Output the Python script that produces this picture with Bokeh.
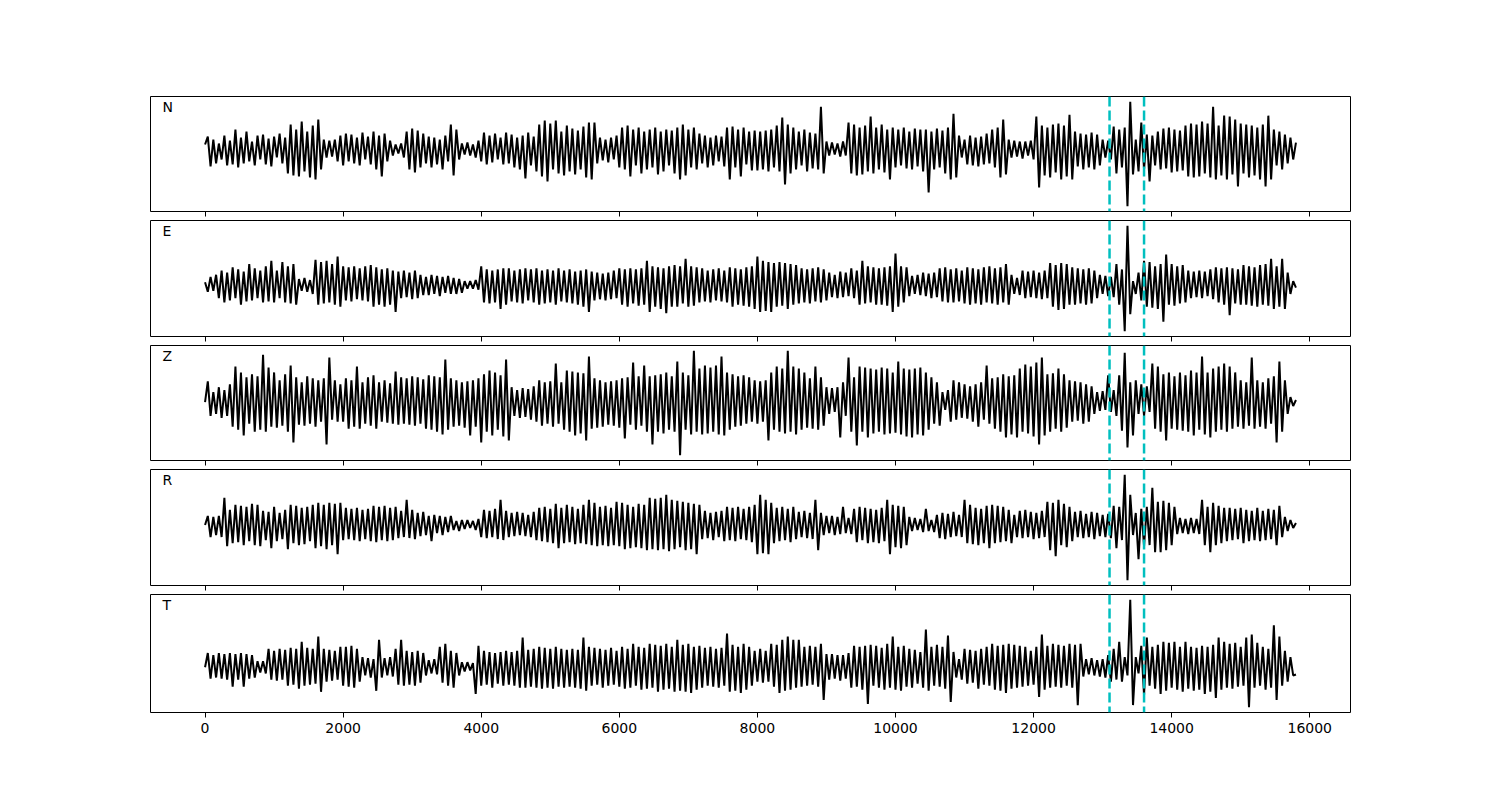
import numpy as np
from bokeh.plotting import figure
from bokeh.layouts import column
from bokeh.models import Range1d, Span, FixedTicker, Label, CustomLabelingPolicy
from bokeh.embed import file_html
from bokeh.resources import INLINE

# ---- data (amplitudes, one value per extremum) ----
channel_names = ["N", "E", "Z", "R", "T"]
sample_step = 40          # samples between successive values
pick_times = [13100, 13600]
x_ticks = [0, 2000, 4000, 6000, 8000, 10000, 12000, 14000, 16000]

n_trace = [
    5, 13, -17, 10, -14, 6, -10, 14, -16, 9,
    -15, 20, -18, 12, -14, 18, -12, 8, -16, 14,
    -10, 15, -15, 11, -17, 13, -8, 16, -14, 12,
    -24, 25, -26, 20, -27, 28, -22, 18, -28, 24,
    -30, 30, -20, 10, -8, 9, -7, 10, -12, 14,
    -16, 16, -12, 15, -14, 12, -16, 17, -10, 13,
    -15, 18, -20, 14, -27, 16, -12, 9, -6, 5,
    -4, 6, -8, 18, -20, 21, -23, 19, -18, 16,
    -14, 13, -18, 12, -15, 10, -20, 14, -12, 25,
    -26, 20, -10, 6, -5, 7, -6, 5, -8, 9,
    -12, 17, -15, 14, -13, 16, -10, 12, -15, 17,
    -14, 15, -18, 12, -20, 14, -29, 17, -16, 13,
    -22, 25, -27, 29, -32, 26, -20, 29, -24, 18,
    -26, 24, -22, 21, -25, 19, -20, 23, -28, 27,
    -30, 27, -14, 12, -11, 10, -13, 12, -10, 14,
    -18, 22, -20, 24, -27, 20, -16, 22, -24, 18,
    -20, 20, -18, 22, -25, 18, -22, 20, -16, 19,
    -24, 22, -30, 25, -26, 20, -18, 22, -20, 16,
    -14, 14, -18, 12, -16, 14, -12, 13, -17, 22,
    -30, 23, -18, 20, -27, 22, -15, 18, -21, 19,
    -21, 18, -20, 19, -22, 20, -18, 24, -22, 32,
    -35, 25, -24, 22, -20, 18, -16, 20, -22, 17,
    -19, 16, -20, 43, -24, 8, -6, 7, -5, 6,
    -7, 8, -6, 27, -24, 25, -26, 22, -25, 24,
    -22, 33, -24, 22, -20, 25, -23, 20, -30, 22,
    -18, 20, -16, 22, -19, 18, -20, 21, -17, 20,
    -22, 20, -43, 18, -20, 21, -18, 19, -24, 22,
    -30, 36, -28, 14, -8, 10, -15, 14, -16, 12,
    -17, 13, -15, 16, -14, 20, -18, 22, -28, 30,
    -25, 10, -8, 9, -7, 8, -9, 8, -6, 9,
    -10, 33, -38, 24, -26, 22, -28, 25, -23, 26,
    -30, 24, -27, 35, -30, 18, -17, 16, -20, 15,
    -18, 17, -20, 15, -16, 10, -8, 9, -10, 23,
    -24, 20, -18, 22, -57, 48, -25, 10, -22, 27,
    -20, 15, -32, 14, -16, 18, -20, 21, -19, 22,
    -23, 20, -22, 19, -21, 24, -27, 26, -28, 25,
    -27, 28, -24, 26, -28, 43, -30, 24, -26, 34,
    -30, 33, -25, 30, -37, 26, -24, 25, -28, 24,
    -26, 22, -30, 25, -37, 34, -30, 20, -16, 18,
    -20, 15, -14, 12, -10, 7,
]

e_trace = [
    3, -6, 8, -5, 10, -12, 14, -16, 12, -14,
    17, -12, 15, -18, 13, -15, 20, -14, 16, -12,
    14, -16, 18, -15, 23, -16, 14, -12, 22, -16,
    18, -17, 20, -18, 6, -5, 7, -6, 5, -8,
    24, -18, 22, -17, 23, -16, 20, -18, 27, -20,
    18, -14, 17, -15, 18, -13, 16, -14, 18, -15,
    19, -20, 17, -18, 15, -20, 16, -18, 14, -25,
    13, -12, 14, -11, 12, -13, 14, -12, 10, -9,
    8, -9, 10, -8, 9, -10, 8, -7, 9, -8,
    7, -8, 6, -7, 4, -3, 4, -3, 5, -4,
    18, -16, 15, -17, 14, -16, 15, -22, 16, -18,
    16, -15, 14, -16, 15, -17, 16, -14, 15, -16,
    16, -18, 14, -17, 15, -16, 14, -18, 16, -15,
    14, -16, 15, -17, 13, -18, 14, -20, 15, -25,
    13, -14, 12, -13, 11, -14, 12, -13, 14, -12,
    16, -18, 15, -20, 16, -17, 15, -19, 16, -18,
    23, -25, 18, -20, 17, -22, 16, -26, 18, -20,
    19, -20, 18, -17, 25, -20, 18, -19, 17, -16,
    16, -15, 14, -16, 15, -14, 16, -15, 14, -16,
    17, -20, 16, -18, 15, -19, 17, -20, 18, -22,
    27, -25, 23, -24, 22, -25, 21, -20, 22, -19,
    21, -22, 20, -18, 19, -17, 16, -16, 15, -17,
    16, -15, 17, -16, 15, -14, 12, -11, 10, -12,
    13, -11, 12, -10, 16, -12, 14, -18, 23, -17,
    18, -16, 17, -18, 16, -18, 17, -19, 18, -25,
    30, -20, 18, -16, 17, -10, 9, -8, 10, -9,
    12, -10, 11, -12, 12, -11, 16, -15, 17, -16,
    15, -16, 16, -15, 14, -17, 17, -18, 16, -17,
    15, -18, 17, -16, 18, -17, 16, -18, 17, -16,
    20, -18, 10, -8, 7, -9, 14, -12, 13, -11,
    14, -12, 12, -13, 14, -12, 21, -20, 19, -23,
    21, -22, 20, -18, 17, -18, 16, -17, 15, -18,
    16, -17, 14, -12, 10, -8, 9, -10, 8, -11,
    20, -18, 15, -43, 56, -27, 4, -8, 12, -14,
    23, -20, 22, -21, 18, -22, 20, -34, 29, -18,
    20, -19, 18, -17, 19, -16, 14, -12, 13, -11,
    14, -12, 13, -10, 15, -13, 17, -16, 16, -18,
    17, -28, 16, -17, 15, -18, 19, -18, 18, -19,
    17, -20, 19, -18, 20, -19, 25, -22, 18, -20,
    25, -22, 12, -8, 4, -2,
]

z_trace = [
    0, 21, -14, 10, -12, 15, -16, 12, -14, 18,
    -25, 36, -28, 30, -34, 25, -22, 28, -30, 26,
    -28, 48, -30, 35, -25, 30, -26, 22, -24, 28,
    -30, 37, -41, 25, -23, 20, -24, 26, -22, 24,
    -25, 22, -20, 24, -43, 45, -18, 22, -20, 18,
    -20, 24, -27, 22, -25, 36, -27, 20, -22, 25,
    -24, 27, -27, 20, -20, 22, -21, 19, -22, 31,
    -23, 25, -22, 24, -23, 26, -24, 25, -22, 23,
    -27, 27, -28, 26, -30, 25, -33, 43, -28, 24,
    -25, 22, -24, 20, -26, 21, -34, 22, -25, 24,
    -41, 28, -30, 32, -34, 30, -28, 27, -35, 43,
    -39, 15, -14, 12, -16, 14, -15, 13, -18, 16,
    -20, 22, -24, 20, -22, 21, -25, 39, -22, 20,
    -28, 32, -30, 31, -34, 30, -32, 29, -39, 46,
    -27, 24, -26, 22, -25, 20, -23, 21, -24, 22,
    -26, 24, -37, 25, -23, 40, -28, 26, -24, 37,
    -30, 26, -43, 27, -30, 28, -32, 30, -28, 26,
    -30, 41, -54, 30, -28, 27, -33, 52, -30, 34,
    -33, 37, -32, 35, -30, 37, -33, 46, -34, 30,
    -28, 28, -25, 26, -24, 27, -22, 25, -20, 22,
    -22, 21, -20, 22, -39, 30, -28, 36, -30, 34,
    -32, 52, -30, 36, -33, 34, -28, 30, -26, 24,
    -27, 36, -28, 25, -24, 15, -12, 14, -10, 15,
    -36, 20, -14, 45, -30, 25, -44, 36, -30, 35,
    -36, 34, -32, 33, -30, 35, -33, 34, -32, 30,
    -31, 41, -33, 34, -35, 33, -36, 34, -33, 35,
    -34, 30, -28, 25, -22, 20, -24, 10, -8, 12,
    -20, 22, -18, 20, -16, 18, -17, 16, -20, 18,
    -25, 20, -18, 37, -22, 24, -27, 25, -30, 28,
    -36, 26, -33, 27, -36, 34, -30, 38, -32, 36,
    -35, 40, -43, 45, -34, 28, -30, 29, -27, 34,
    -30, 28, -26, 22, -20, 21, -19, 20, -22, 18,
    -20, 16, -12, 10, -9, 11, -8, 27, -10, 12,
    -14, 27, -29, 50, -46, 20, -34, 22, -12, 18,
    -14, 16, -10, 39, -27, 36, -30, 28, -39, 30,
    -27, 26, -28, 30, -29, 27, -30, 32, -34, 30,
    -28, 46, -33, 30, -36, 34, -30, 36, -28, 39,
    -30, 36, -27, 30, -25, 22, -27, 20, -24, 45,
    -27, 22, -25, 20, -27, 24, -22, 26, -41, 41,
    -30, 22, -12, 5, -4, 2,
]

r_trace = [
    0, 9, -12, 8, -10, 9, -12, 27, -21, 15,
    -18, 20, -17, 19, -20, 18, -16, 21, -20, 20,
    -21, 14, -15, 13, -23, 18, -16, 12, -14, 15,
    -24, 20, -18, 19, -20, 17, -19, 18, -16, 20,
    -23, 22, -21, 20, -24, 22, -20, 21, -29, 22,
    -15, 17, -14, 16, -15, 17, -16, 15, -14, 16,
    -16, 19, -17, 18, -15, 19, -16, 17, -15, 18,
    -13, 14, -12, 25, -13, 15, -14, 12, -11, 13,
    -10, 9, -16, 10, -8, 9, -10, 8, -7, 9,
    -5, 4, -6, 5, -4, 5, -3, 4, -5, 6,
    -12, 15, -13, 14, -12, 16, -14, 25, -15, 14,
    -12, 12, -11, 13, -10, 12, -11, 10, -12, 13,
    -15, 17, -16, 18, -17, 16, -18, 21, -23, 17,
    -18, 20, -17, 18, -19, 16, -18, 20, -19, 25,
    -20, 22, -21, 18, -20, 19, -21, 17, -20, 23,
    -21, 22, -24, 20, -23, 18, -22, 21, -23, 20,
    -25, 27, -24, 26, -25, 27, -24, 30, -26, 25,
    -24, 24, -22, 23, -25, 22, -24, 21, -29, 20,
    -14, 14, -13, 12, -15, 13, -12, 14, -16, 18,
    -15, 17, -16, 18, -14, 16, -15, 18, -17, 20,
    -29, 30, -28, 25, -29, 22, -18, 17, -16, 18,
    -15, 16, -17, 18, -14, 13, -12, 14, -13, 12,
    -14, 25, -25, 12, -10, 9, -8, 9, -10, 8,
    -9, 18, -8, 7, -9, 16, -17, 18, -15, 17,
    -18, 16, -17, 15, -18, 17, -16, 25, -29, 20,
    -22, 19, -23, 18, -20, 8, -6, 7, -5, 6,
    -7, 16, -6, 5, -7, 10, -13, 12, -14, 11,
    -12, 13, -11, 10, -12, 25, -18, 20, -19, 17,
    -20, 16, -18, 19, -23, 20, -18, 19, -17, 18,
    -16, 15, -18, 10, -12, 14, -13, 15, -12, 13,
    -14, 12, -13, 14, -12, 23, -25, 22, -31, 25,
    -20, 21, -22, 18, -16, 13, -12, 14, -13, 11,
    -12, 13, -14, 12, -11, 10, -12, 11, -13, 19,
    -23, 18, -15, 50, -55, 30, -10, 12, -34, 16,
    -21, 18, -20, 37, -27, 23, -27, 24, -25, 22,
    -20, 18, -9, 7, -8, 6, -9, 7, -8, 6,
    -9, 25, -20, 18, -27, 22, -20, 19, -18, 17,
    -16, 17, -15, 16, -14, 17, -18, 15, -16, 14,
    -15, 17, -16, 14, -15, 16, -14, 15, -20, 19,
    -12, 8, -6, 5, -3, 2,
]

t_trace = [
    0, 14, -11, 12, -10, 14, -11, 13, -12, 14,
    -19, 13, -12, 14, -19, 13, -11, 12, -10, 6,
    -5, 6, -6, 18, -12, 16, -13, 18, -12, 17,
    -18, 19, -17, 18, -21, 25, -18, 19, -17, 18,
    -16, 30, -24, 18, -14, 17, -13, 16, -12, 20,
    -18, 20, -19, 21, -20, 18, -14, 10, -8, 9,
    -10, 8, -23, 27, -10, 9, -8, 10, -9, 18,
    -17, 27, -18, 16, -17, 15, -18, 16, -15, 14,
    -8, 7, -6, 8, -7, 20, -15, 23, -18, 16,
    -20, 14, -8, 5, -4, 5, -3, 4, -26, 21,
    -18, 16, -17, 15, -20, 14, -16, 15, -18, 16,
    -17, 15, -18, 16, -20, 29, -20, 17, -19, 18,
    -20, 20, -21, 19, -20, 18, -21, 20, -19, 18,
    -20, 17, -19, 18, -20, 17, -21, 29, -23, 20,
    -18, 19, -17, 18, -20, 17, -18, 19, -17, 16,
    -19, 20, -21, 18, -20, 23, -18, 20, -22, 19,
    -21, 23, -20, 22, -24, 21, -22, 23, -21, 20,
    -24, 27, -23, 22, -24, 23, -25, 20, -22, 21,
    -20, 19, -18, 20, -19, 18, -20, 19, -18, 33,
    -24, 22, -23, 20, -25, 23, -22, 20, -18, 16,
    -14, 18, -15, 16, -14, 23, -19, 22, -25, 27,
    -23, 30, -22, 27, -20, 27, -19, 20, -18, 21,
    -17, 20, -19, 23, -32, 13, -12, 13, -11, 12,
    -13, 12, -11, 14, -20, 21, -19, 20, -22, 21,
    -36, 22, -18, 21, -20, 19, -22, 23, -20, 30,
    -22, 20, -23, 21, -19, 18, -20, 17, -16, 15,
    -20, 37, -23, 20, -18, 22, -19, 20, -21, 31,
    -34, 15, -10, 8, -12, 18, -16, 17, -15, 16,
    -21, 18, -17, 20, -18, 23, -22, 21, -23, 22,
    -25, 23, -21, 22, -20, 21, -19, 20, -18, 16,
    -17, 20, -29, 32, -22, 21, -20, 23, -19, 22,
    -20, 21, -18, 23, -20, 22, -37, 23, -9, 8,
    -7, 9, -8, 7, -9, 8, -10, 12, -14, 18,
    -12, 25, -14, 10, -8, 66, -37, 10, -6, 21,
    -27, 29, -18, 20, -21, 22, -26, 25, -23, 24,
    -20, 25, -22, 20, -24, 25, -21, 20, -23, 19,
    -22, 21, -26, 20, -24, 22, -30, 29, -22, 25,
    -20, 23, -21, 24, -19, 20, -18, 29, -39, 32,
    -20, 24, -18, 20, -22, 18, -20, 41, -32, 30,
    -18, 16, -14, 10, -8, -7,
]

traces = [n_trace, e_trace, z_trace, r_trace, t_trace]

# ---- layout (screen pixels) ----
LEFT, RIGHT = 150, 134
FRAME_W = 1200
frame_heights = [118, 119, 118, 119, 118]
tops = [96, 0, 0, 0, 0]
bottoms = [6, 6, 6, 6, 72]

no_labels = CustomLabelingPolicy(code="""
    for (const i of indices)
        indices.unset(i)
    return indices
""")

x_range = Range1d(-790, 16590)
figs = []
for k, (name, vals) in enumerate(zip(channel_names, traces)):
    y = np.array(vals, dtype=float)
    x = np.arange(len(y)) * sample_step
    lo, hi = y.min(), y.max()
    pad = 0.05 * (hi - lo)
    y_range = Range1d(lo - pad, hi + pad)
    h = tops[k] + frame_heights[k] + bottoms[k]
    p = figure(width=LEFT + FRAME_W + RIGHT, height=h,
               x_range=x_range, y_range=y_range,
               output_backend="svg", toolbar_location=None,
               y_axis_location=None,
               min_border_left=LEFT, min_border_right=RIGHT,
               min_border_top=tops[k], min_border_bottom=bottoms[k])
    p.xgrid.visible = False
    p.ygrid.visible = False
    p.outline_line_color = "black"
    p.outline_line_width = 1
    p.background_fill_color = "white"
    p.border_fill_color = "white"

    ax = p.xaxis[0]
    ax.ticker = FixedTicker(ticks=x_ticks)
    ax.axis_line_color = None
    ax.major_tick_in = 0
    ax.major_tick_out = 5
    ax.major_tick_line_width = 1
    ax.minor_tick_line_color = None
    ax.major_tick_line_color = "black"
    ax.major_label_text_font = "DejaVu Sans"
    ax.major_label_text_color = "black"
    if k < len(traces) - 1:
        ax.major_label_policy = no_labels
        ax.major_label_text_font_size = "1px"
        ax.major_label_standoff = 0
    else:
        ax.major_label_text_font_size = "14px"
        ax.major_label_standoff = 5

    p.line(x, y, line_color="black", line_width=2)

    for t in pick_times:
        p.add_layout(Span(location=t, dimension="height", line_color="#00BFBF",
                          line_width=2.5, line_dash="10 4"))

    span_x = x_range.end - x_range.start
    span_y = y_range.end - y_range.start
    p.add_layout(Label(x=x_range.start + 0.01 * span_x,
                       y=y_range.start + 0.84 * span_y,
                       text=name, text_font="DejaVu Sans",
                       text_font_size="14px", text_color="black"))
    figs.append(p)

layout = column(*figs, spacing=0)
open("out.html", "w").write(file_html(layout, INLINE))
